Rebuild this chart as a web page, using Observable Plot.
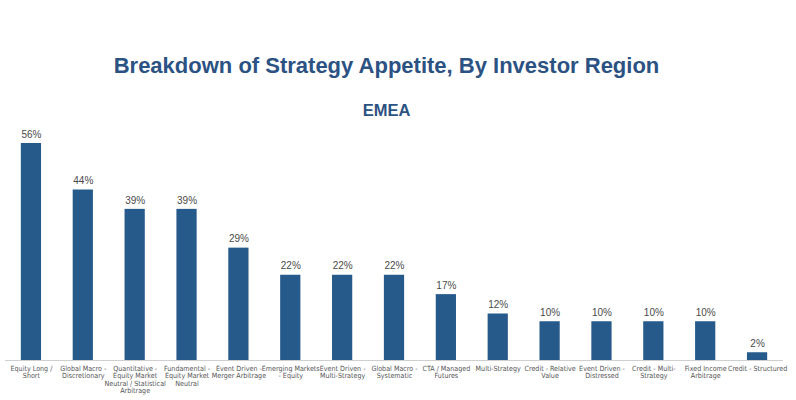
<!DOCTYPE html>
<html><head><meta charset="utf-8">
<script src="https://cdn.jsdelivr.net/npm/d3@7"></script>
<script src="https://cdn.jsdelivr.net/npm/@observablehq/plot@0.6"></script>
<style>
body{margin:0;background:#fff;font-family:"Liberation Sans",Arial,sans-serif;}
#wrap{position:relative;width:796px;height:400px;overflow:hidden;}
#title{position:absolute;left:0;width:773px;top:52px;text-align:center;font-size:22px;font-weight:bold;color:#2b5283;line-height:28px;}
#sub{position:absolute;left:0;width:773px;top:100px;text-align:center;font-size:16.5px;font-weight:bold;color:#2b5283;line-height:20px;}
#chart{position:absolute;left:0;top:118px;}
</style></head>
<body><div id="wrap">
<div id="title">Breakdown of Strategy Appetite, By Investor Region</div>
<div id="sub">EMEA</div>
<div id="chart"></div>
</div>
<script>
const categories = [
 "Equity Long /\nShort",
 "Global Macro -\nDiscretionary",
 "Quantitative -\nEquity Market\nNeutral / Statistical\nArbitrage",
 "Fundamental -\nEquity Market\nNeutral",
 "Event Driven -\nMerger Arbitrage",
 "Emerging Markets\n- Equity",
 "Event Driven -\nMulti-Strategy",
 "Global Macro -\nSystematic",
 "CTA / Managed\nFutures",
 "Multi-Strategy",
 "Credit - Relative\nValue",
 "Event Driven -\nDistressed",
 "Credit - Multi-\nStrategy",
 "Fixed Income\nArbitrage",
 "Credit - Structured"
];
const values = [56, 44, 39, 39, 29, 22, 22, 22, 17, 12, 10, 10, 10, 10, 2];
const data = categories.map((c, i) => ({category: c, value: values[i]}));

const chart = Plot.plot({
  width: 796,
  height: 282,
  marginLeft: 5,
  marginRight: 13,
  marginTop: 25,
  marginBottom: 40,
  style: {fontFamily: '"Liberation Sans", Arial, sans-serif', background: "#fff"},
  x: {domain: categories, paddingInner: 0.61, paddingOuter: 0.305, align: 0.5, round: false, label: null},
  y: {domain: [0, 56], axis: null},
  marks: [
    Plot.barY(data, {x: "category", y: "value", fill: "#265a8a"}),
    Plot.ruleY([0], {stroke: "#cfcfcf", strokeWidth: 1}),
    Plot.text(data, {x: "category", y: "value", text: d => d.value + "%", dy: -9, fontSize: 10, fill: "#4a4a4a"}),
    Plot.axisX({tickSize: 0, tickPadding: 5, fontSize: 7.1, fill: "#555", lineHeight: 1.06, label: null,
      fontFamily: '"Liberation Sans Narrow", "DejaVu Sans Condensed", Arial, sans-serif'})
  ]
});
document.getElementById("chart").appendChild(chart);
</script>
</body></html>
